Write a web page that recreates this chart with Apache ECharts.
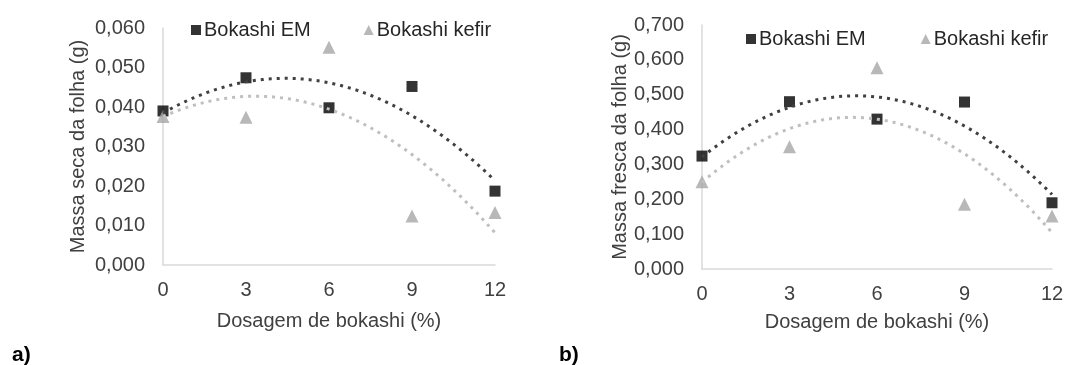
<!DOCTYPE html>
<html>
<head>
<meta charset="utf-8">
<script src="https://cdn.jsdelivr.net/npm/echarts@6/dist/echarts.min.js"></script>
<style>
html,body{margin:0;padding:0;background:#fff;}
#c{width:1084px;height:365px;}
</style>
</head>
<body>
<div id="c"></div>
<script>
// ---- data ----
const doses = [0, 3, 6, 9, 12];
const xTicks = [0, 3, 6, 9, 12];
// a) Massa seca da folha (g)
const secaEM = [0.0390, 0.0474, 0.0398, 0.0452, 0.0187];
const secaKefir = [0.0376, 0.0374, 0.0551, 0.0124, 0.0133];
// b) Massa fresca da folha (g)
const frescaEM = [0.324, 0.480, 0.430, 0.479, 0.190];
const frescaKefir = [0.250, 0.351, 0.577, 0.186, 0.152];
const seriesNames = ['Bokashi EM', 'Bokashi kefir'];
const panelLabels = ['a)', 'b)'];

// second-order polynomial trendline (least squares, like the spreadsheet trendline)
function quadFit(xs, ys) {
  let S = [0,0,0,0,0], T = [0,0,0];
  for (let i = 0; i < xs.length; i++) {
    let p = 1;
    for (let k = 0; k < 5; k++) { S[k] += p; if (k < 3) T[k] += p * ys[i]; p *= xs[i]; }
  }
  const A = [[S[0],S[1],S[2],T[0]],[S[1],S[2],S[3],T[1]],[S[2],S[3],S[4],T[2]]];
  for (let i = 0; i < 3; i++) {
    for (let j = i + 1; j < 3; j++) {
      const f = A[j][i] / A[i][i];
      for (let k = i; k < 4; k++) A[j][k] -= f * A[i][k];
    }
  }
  const c = [0,0,0];
  for (let i = 2; i >= 0; i--) {
    let s = A[i][3];
    for (let k = i + 1; k < 3; k++) s -= A[i][k] * c[k];
    c[i] = s / A[i][i];
  }
  return c;
}
function trend(xs, ys) {
  const c = quadFit(xs, ys);
  const out = [];
  for (let i = 0; i <= 120; i++) {
    const x = i / 10;
    out.push([x, c[0] + c[1] * x + c[2] * x * x]);
  }
  return out;
}
const pairs = (xs, ys) => xs.map((x, i) => [x, ys[i]]);

const FONT = 'Liberation Sans, Arial, sans-serif';
const TXT = '#404040';
const AXC = '#d9d9d9';
const EMC = '#000000';
const KFC = '#a6a6a6';
const TREND_EM = '#404040';
const TREND_KF = '#bfbfbf';

function xAxis(gi, gap) {
  return {
    type: 'value', gridIndex: gi, min: 0, max: 12, interval: 3,
    name: 'Dosagem de bokashi (%)', nameLocation: 'middle', nameGap: gap,
    nameTextStyle: { fontFamily: FONT, fontSize: 20, color: TXT },
    axisLine: { show: true, lineStyle: { color: AXC, width: 1.5 } },
    axisTick: { show: false }, splitLine: { show: false },
    axisLabel: { fontFamily: FONT, fontSize: 20, color: TXT, margin: 15 }
  };
}
function yAxis(gi, max, interval, name, gap) {
  return {
    type: 'value', gridIndex: gi, min: 0, max: max, interval: interval,
    name: name, nameLocation: 'middle', nameGap: gap, nameRotate: 90,
    nameTextStyle: { fontFamily: FONT, fontSize: 20, color: TXT },
    axisLine: { show: true, lineStyle: { color: AXC, width: 1.5 } },
    axisTick: { show: false }, splitLine: { show: false },
    axisLabel: { fontFamily: FONT, fontSize: 20, color: TXT, margin: 18,
      formatter: v => v.toFixed(3).replace('.', ',') }
  };
}
function scatter(name, gi, data, color, symbol, size) {
  return { type: 'scatter', name: name, xAxisIndex: gi, yAxisIndex: gi, data: data,
    symbol: symbol, symbolSize: size, itemStyle: { color: color }, z: 2, silent: true };
}
function trendLine(gi, data, color) {
  return { type: 'line', xAxisIndex: gi, yAxisIndex: gi, data: data, showSymbol: false,
    smooth: false, lineStyle: { color: color, width: 3, type: [3, 5] }, z: 3, silent: true };
}
function legend(left, top, gap) {
  return {
    left: left, top: top, itemGap: gap, itemWidth: 10, itemHeight: 10,
    selectedMode: false,
    data: [ { name: seriesNames[0], icon: 'rect' }, { name: seriesNames[1], icon: 'triangle' } ],
    textStyle: { fontFamily: FONT, fontSize: 20, color: '#262626', padding: [0, 0, 0, -2] }
  };
}

const chart = echarts.init(document.getElementById('c'), null, { renderer: 'canvas' });
chart.setOption({
  animation: false,
  backgroundColor: '#ffffff',
  title: [
    { text: panelLabels[0], left: 7, top: 340, textStyle: { fontFamily: FONT, fontSize: 21, fontWeight: 'bold', color: '#000' } },
    { text: panelLabels[1], left: 554, top: 340, textStyle: { fontFamily: FONT, fontSize: 21, fontWeight: 'bold', color: '#000' } }
  ],
  legend: [ legend(186, 15, 53), legend(741, 24, 55) ],
  grid: [
    { left: 163, right: 589, top: 28, bottom: 100 },
    { left: 702, right: 32, top: 25, bottom: 96 }
  ],
  xAxis: [ xAxis(0, 46), xAxis(1, 43) ],
  yAxis: [
    yAxis(0, 0.06, 0.01, 'Massa seca da folha (g)', 75),
    yAxis(1, 0.7, 0.1, 'Massa fresca da folha (g)', 71)
  ],
  series: [
    scatter(seriesNames[0], 0, pairs(doses, secaEM), EMC, 'rect', 11),
    scatter(seriesNames[1], 0, pairs(doses, secaKefir), KFC, 'triangle', 13),
    scatter(seriesNames[0], 1, pairs(doses, frescaEM), EMC, 'rect', 11),
    scatter(seriesNames[1], 1, pairs(doses, frescaKefir), KFC, 'triangle', 13),
    trendLine(0, trend(doses, secaEM), TREND_EM),
    trendLine(0, trend(doses, secaKefir), TREND_KF),
    trendLine(1, trend(doses, frescaEM), TREND_EM),
    trendLine(1, trend(doses, frescaKefir), TREND_KF)
  ]
});
</script>
</body>
</html>
